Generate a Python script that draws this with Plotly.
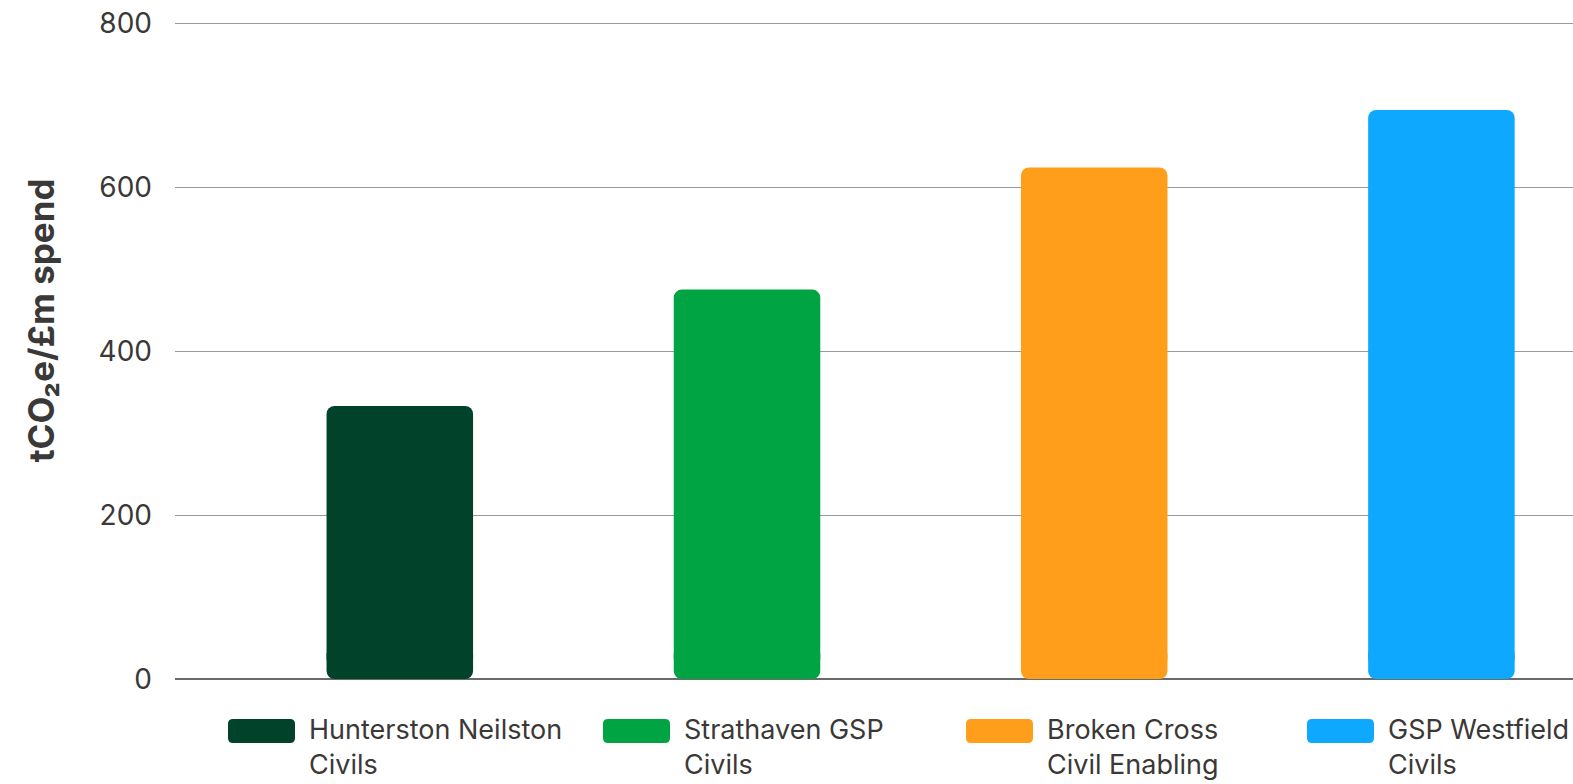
import plotly.graph_objects as go

# Carbon intensity per project
projects = [
    "Hunterston Neilston Civils",
    "Strathaven GSP Civils",
    "Broken Cross Civil Enabling",
    "GSP Westfield Civils",
]
legend_labels = [
    "Hunterston Neilston<br>Civils",
    "Strathaven GSP<br>Civils",
    "Broken Cross<br>Civil Enabling",
    "GSP Westfield<br>Civils",
]
intensity = [333, 475, 624, 694]  # tCO2e per £m spend
colors = ["#00422A", "#00A443", "#FF9E1B", "#0EA8FF"]
y_ticks = [0, 200, 400, 600, 800]

W, H = 1573, 784
PX_PER_UNIT = (679 - 22.7) / 800
Y_MAX = 805
PL, PR, PB = 175, 1573, 679  # plot area in pixels
PT = PB - Y_MAX * PX_PER_UNIT
TEXT = "#3B3838"
FONT = "Inter"


def px_x(p):
    return (p - PL) / (PR - PL)


def px_y(p):
    return (PB - p) / (PB - PT)


fig = go.Figure()

# Each bar: a long piece rounded at the top plus a foot rounded at the bottom;
# the two overlap enough that their inner corners are hidden
FOOT = 40
fig.add_trace(go.Bar(
    x=projects, y=[v - 15 for v in intensity], base=[15] * len(intensity),
    marker=dict(color=colors, cornerradius=8, line=dict(width=0)),
    width=0.422, showlegend=False, hoverinfo="skip",
))
fig.add_trace(go.Bar(
    x=projects, y=[-FOOT] * len(intensity), base=[FOOT] * len(intensity),
    marker=dict(color=colors, cornerradius=8, line=dict(width=0)),
    width=0.422, showlegend=False, hoverinfo="skip",
))

# Custom legend: rounded swatches with wrapped labels
swatch_left = [228, 603, 966, 1307]
sw_w, sw_h, sw_top, r = 67, 24, 719, 5
shapes = []
annotations = []
for left, col, lab in zip(swatch_left, colors, legend_labels):
    x0, x1 = left, left + sw_w
    y0, y1 = sw_top, sw_top + sw_h
    pts = [
        ("M", x0 + r, y0), ("L", x1 - r, y0), ("Q", x1, y0, x1, y0 + r),
        ("L", x1, y1 - r), ("Q", x1, y1, x1 - r, y1), ("L", x0 + r, y1),
        ("Q", x0, y1, x0, y1 - r), ("L", x0, y0 + r), ("Q", x0, y0, x0 + r, y0),
    ]
    path = ""
    for seg in pts:
        cmd = seg[0]
        coords = seg[1:]
        parts = []
        for i in range(0, len(coords), 2):
            parts.append(f"{px_x(coords[i]):.5f},{px_y(coords[i + 1]):.5f}")
        path += cmd + " ".join(parts) + " "
    shapes.append(dict(type="path", xref="paper", yref="paper", path=path + "Z",
                       fillcolor=col, line=dict(width=0)))
    annotations.append(dict(
        x=px_x(x1 + 12), y=px_y(sw_top - 8), xref="paper", yref="paper",
        xanchor="left", yanchor="top", align="left", showarrow=False,
        text=lab, font=dict(family=FONT, size=27, color=TEXT),
    ))

# Rotated axis title
annotations.append(dict(
    x=px_x(41), y=px_y(320), xref="paper", yref="paper",
    xanchor="center", yanchor="middle", showarrow=False, textangle=-90,
    text="tCO₂e/£m spend", font=dict(family=FONT, size=35, color=TEXT, weight="bold"),
))

fig.update_layout(
    width=W, height=H,
    margin=dict(l=PL, r=W - PR, t=PT, b=H - PB, pad=0),
    paper_bgcolor="white", plot_bgcolor="white",
    barmode="overlay",
    shapes=shapes, annotations=annotations,
    xaxis=dict(range=[-0.6475, 3.379], showticklabels=False, showgrid=False,
               zeroline=False, showline=False, fixedrange=True),
    yaxis=dict(range=[0, Y_MAX], tickvals=y_ticks, showgrid=True, gridcolor="#9A9A9A",
               gridwidth=1, zeroline=True, zerolinecolor="#6B6B6B", zerolinewidth=1.5,
               showline=False, ticks="", ticklabelstandoff=22,
               tickfont=dict(family=FONT, size=28, color=TEXT)),
    font=dict(family=FONT, color=TEXT),
)

fig.write_html("out.html")
